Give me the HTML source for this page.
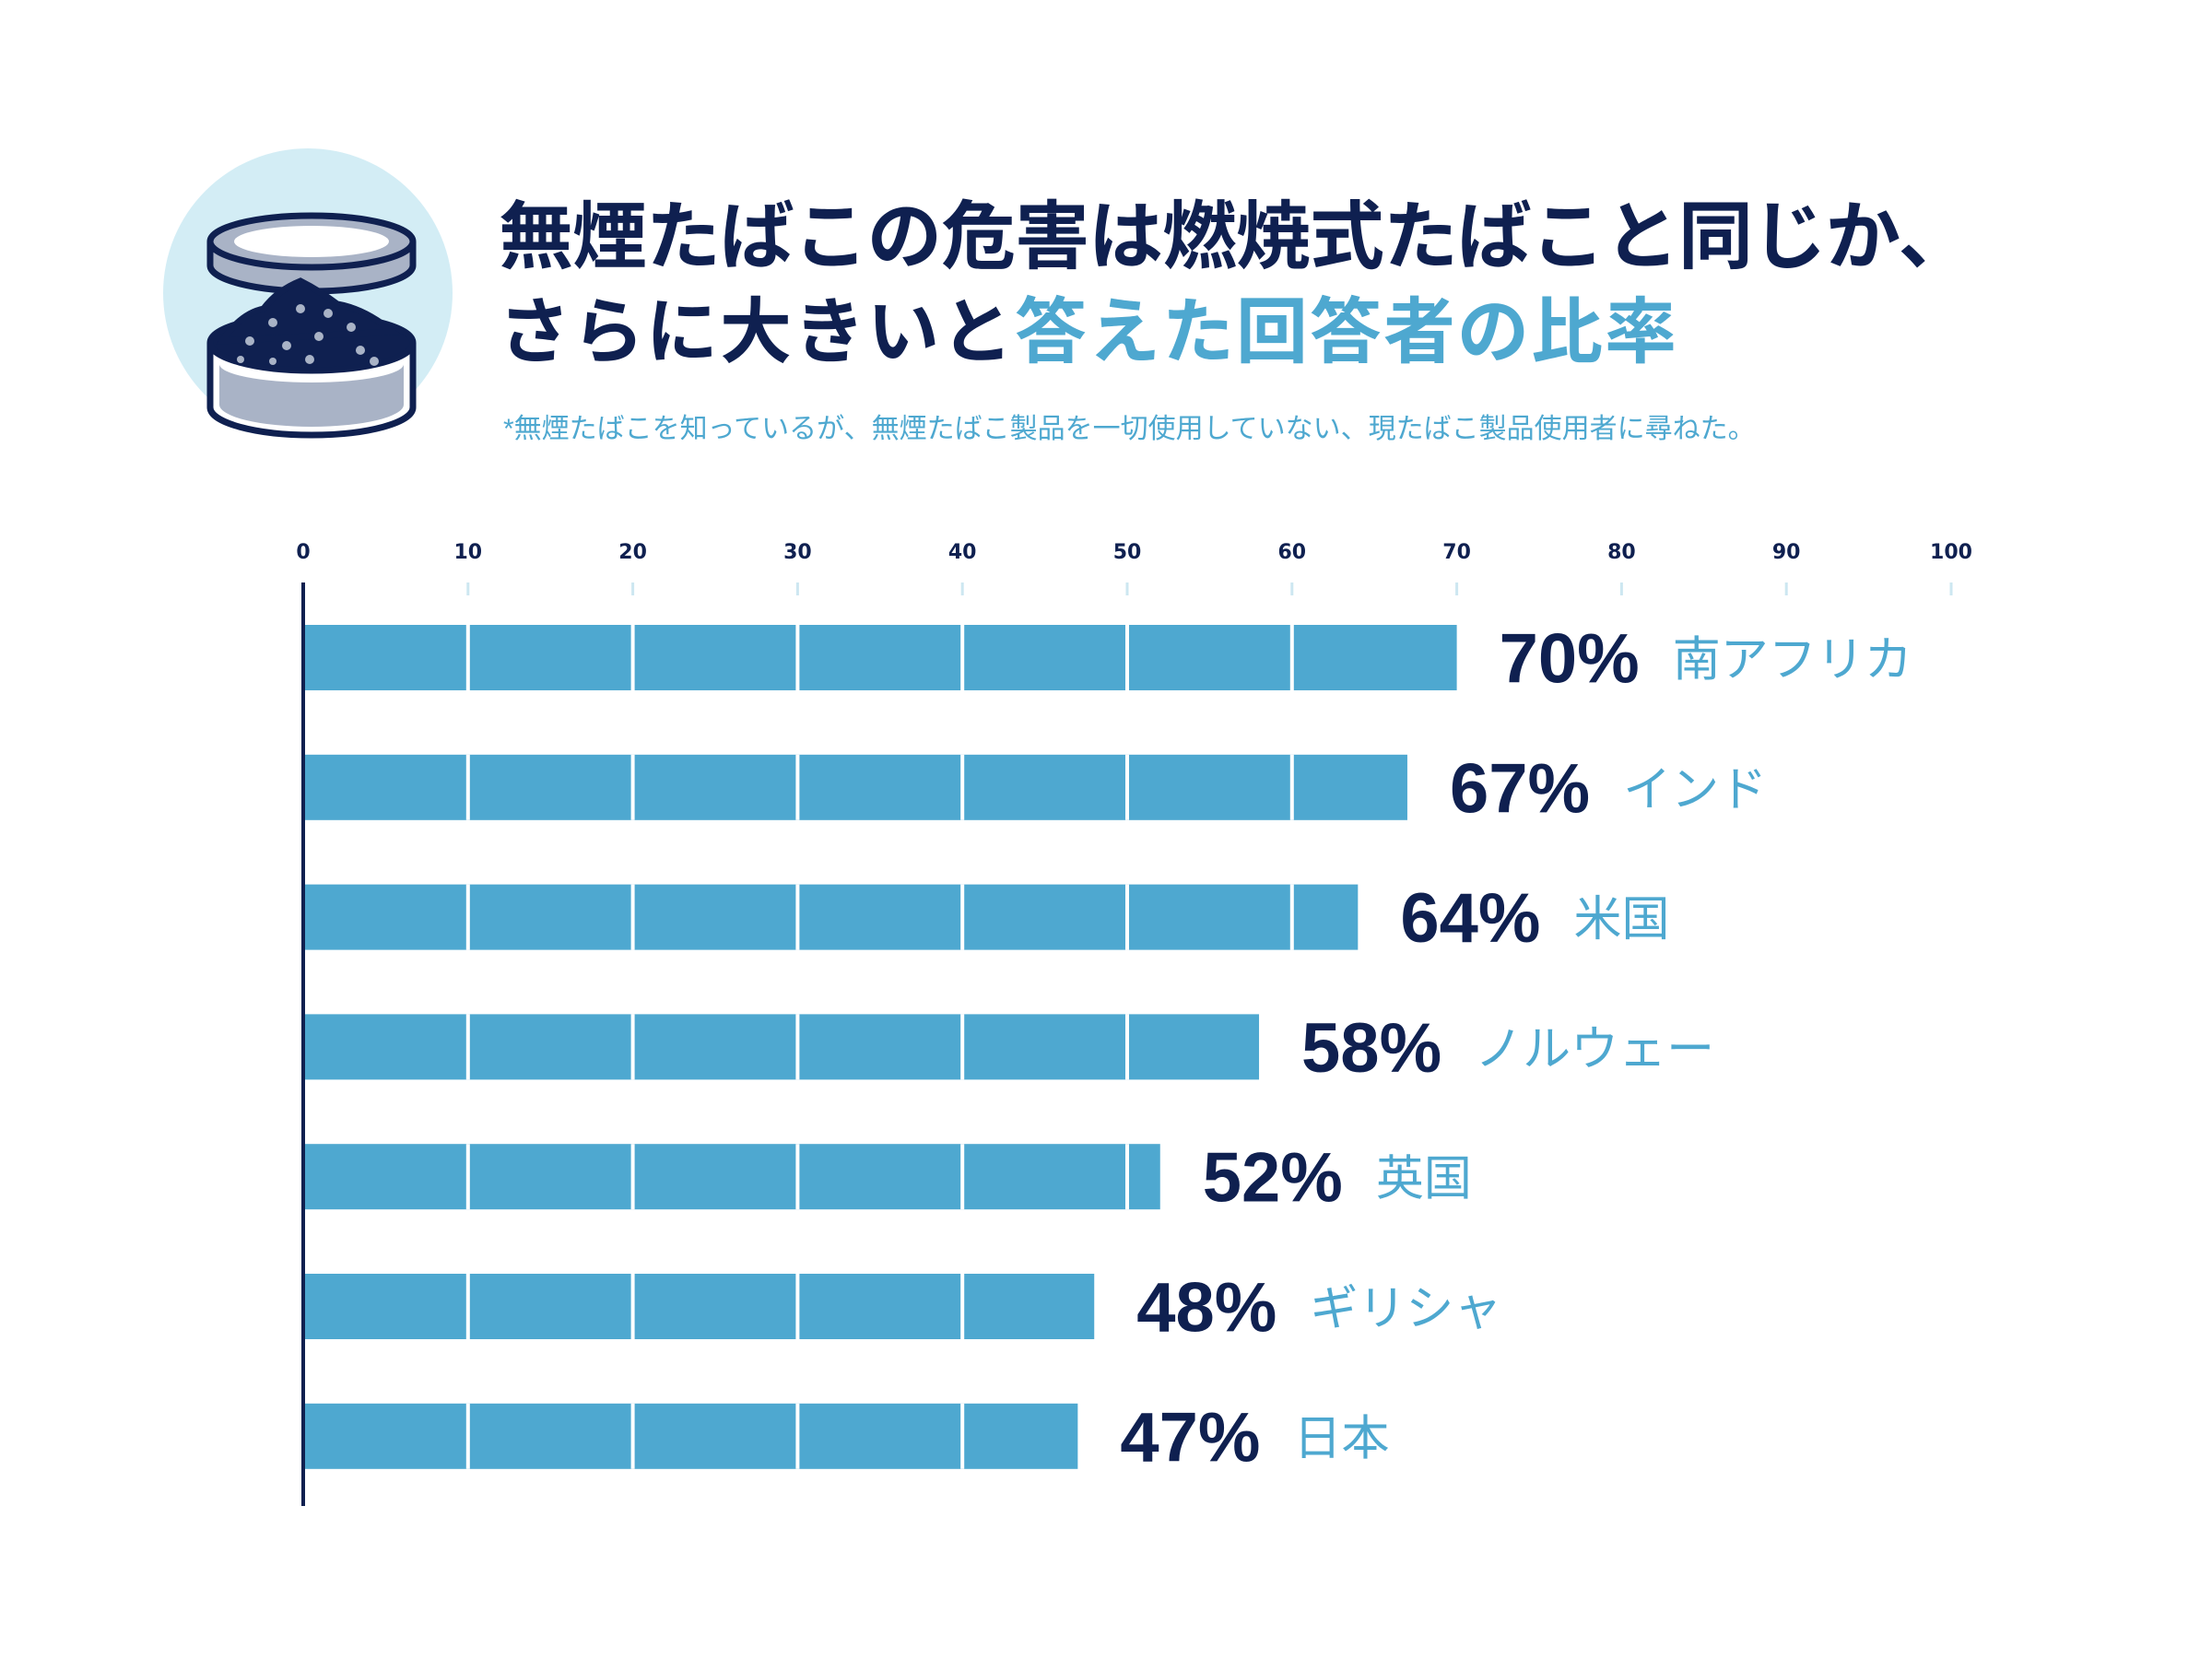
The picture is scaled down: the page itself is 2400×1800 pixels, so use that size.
<!DOCTYPE html>
<html><head><meta charset="utf-8">
<style>
body{margin:0;background:#fff;}
#wrap{position:relative;width:2400px;height:1800px;overflow:hidden;font-family:"Liberation Sans","Noto Sans CJK JP",sans-serif;}
.t{position:absolute;white-space:nowrap;}
</style></head>
<body>
<div id="wrap">
<svg style="position:absolute;left:0;top:0" width="520" height="520" viewBox="0 0 520 520">
  <circle cx="334" cy="318" r="157" fill="#d3edf5"/>
  <g stroke="#0f2050" stroke-width="7">
    <path d="M228 262 v26 a110 28 0 0 0 220 0 v-26" fill="#a9b3c6"/>
    <ellipse cx="338" cy="262" rx="110" ry="28" fill="#a9b3c6"/>
    <ellipse cx="338" cy="262" rx="84" ry="17" fill="#fff" stroke="none"/>
    <path d="M228 372 v70 a110 30 0 0 0 220 0 v-70" fill="#fff"/>
    <path d="M238 395 v44 a100 24 0 0 0 200 0 v-44 a100 20 0 0 1 -200 0z" fill="#a9b3c6" stroke="none"/>
    <ellipse cx="338" cy="372" rx="110" ry="30" fill="#0f2050"/>
    <path d="M241 370 q20 -30 45 -35 q15 -20 40 -30 q20 10 40 25 q30 5 60 30 z" fill="#0f2050"/>
  </g>
  <g fill="#a9b3c6">
    <circle cx="296" cy="350" r="5"/><circle cx="326" cy="335" r="5"/><circle cx="356" cy="340" r="5"/><circle cx="381" cy="355" r="5"/>
    <circle cx="271" cy="370" r="5"/><circle cx="311" cy="375" r="5"/><circle cx="346" cy="365" r="5"/><circle cx="391" cy="380" r="5"/>
    <circle cx="261" cy="390" r="4"/><circle cx="336" cy="390" r="5"/><circle cx="406" cy="392" r="5"/><circle cx="296" cy="392" r="4"/>
  </g>
</svg>
<div class="t" style="left:541px;top:192px;font-size:81px;font-weight:bold;color:#0f2050;letter-spacing:-1px;">無煙たばこの危害は燃焼式たばこと同じか、</div>
<div class="t" style="left:541px;top:298px;font-size:78px;font-weight:bold;color:#0f2050;letter-spacing:2px;">さらに大きいと<span style="color:#4ea8d0">答えた回答者の比率</span></div>
<div class="t" style="left:546px;top:440px;font-size:30px;color:#4ea8d0;">*無煙たばこを知っているが、無煙たばこ製品を一切使用していない、現たばこ製品使用者に尋ねた。</div>
<svg id="chart" style="position:absolute;left:0;top:0" width="2400" height="1800"></svg>
</div>
<script>
const categories=["南アフリカ","インド","米国","ノルウェー","英国","ギリシャ","日本"];
const values=[70,67,64,58,52,48,47];
const ticks=[0,10,20,30,40,50,60,70,80,90,100];
const NS="http://www.w3.org/2000/svg";
const svg=document.getElementById('chart');
const x=v=>329+v*17.88;
const y=i=>678+i*140.8;
const bh=71;
function mk(tag,at){const e=document.createElementNS(NS,tag);for(const k in at)e.setAttribute(k,at[k]);svg.appendChild(e);return e;}
ticks.forEach(t=>{
  const l=mk('text',{x:x(t),y:606,'text-anchor':'middle','font-size':22,'font-weight':'bold',fill:'#0f2050','font-family':'DejaVu Sans, sans-serif'});
  l.textContent=t;
  
  
  if(t>0){const m=mk('line',{x1:x(t),x2:x(t),y1:632,y2:646,stroke:'#cde7f1','stroke-width':3});
  
  }
});
values.forEach((v,i)=>{
  const r=mk('rect',{x:x(0),y:y(i),width:x(v)-x(0),height:bh,fill:'#4ea8d0'});
  
  
  for(let t=10;t<v;t+=10){
    const d=mk('line',{x1:x(t),x2:x(t),y1:y(i),y2:y(i)+bh,stroke:'#fff','stroke-width':4});
    
    
  }
  const vl=mk('text',{x:x(v)+46,y:y(i)+bh/2+27,'font-size':76,'font-weight':'bold',fill:'#0f2050','font-family':'Liberation Sans, sans-serif'});
  vl.textContent=v+'%';
  
  
  const w=vl.getComputedTextLength();
  const cl=mk('text',{x:x(v)+46+w+36,y:y(i)+bh/2+20,'font-size':52,fill:'#4ea8d0','font-family':'Liberation Sans, Noto Sans CJK JP, sans-serif'});
  cl.textContent=categories[i];
  
  
});
const ax=mk('line',{x1:x(0),x2:x(0),y1:632,y2:1634,stroke:'#0f2050','stroke-width':4});


</script>
</body></html>
